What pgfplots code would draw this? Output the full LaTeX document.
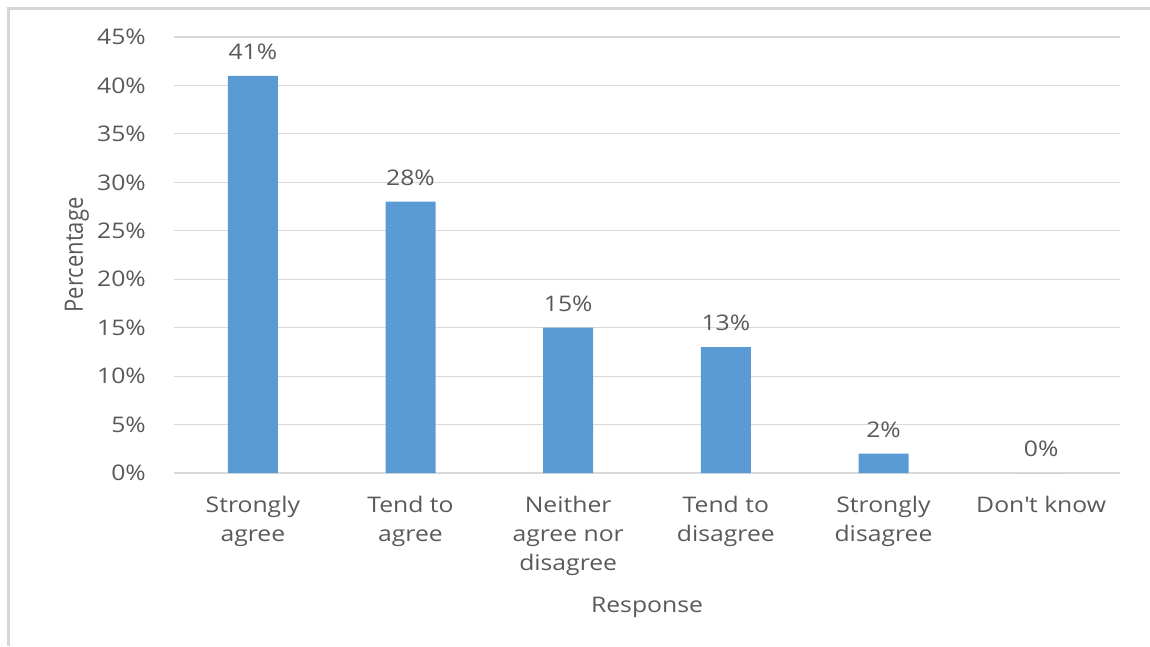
\documentclass[border=0pt]{standalone}
\usepackage{fontspec}
\setmainfont{Open Sans}[FakeStretch=1.15]
\newfontfamily\uprightlabel{Open Sans}
\usepackage{pgfplots}
\pgfplotsset{compat=1.18}

\definecolor{barblue}{HTML}{5B9BD5}
\definecolor{gridgray}{HTML}{D9D9D9}
\definecolor{framegray}{HTML}{D6D6D6}
\definecolor{textgray}{HTML}{595959}
\newcommand\chartfont{\fontsize{21.5}{29}\selectfont}

\begin{document}
\begin{tikzpicture}
  \useasboundingbox (0pt,0pt) rectangle (1150pt,646pt);
  % chart frame (top and left edges)
  \draw[framegray, line width=2.5pt] (8.5pt,0pt) -- (8.5pt,637.5pt) -- (1150pt,637.5pt);

  \begin{axis}[
    at={(174pt,173pt)}, anchor=south west,
    scale only axis, width=946pt, height=436pt,
    ybar, bar width=50pt,
    xmin=-0.5, xmax=5.5, ymin=0, ymax=45,
    enlargelimits=false,
    axis line style={draw=none},
    tick style={draw=none},
    ymajorgrids, major grid style={gridgray, line width=1.2pt},
    xtick={0,1,2,3,4,5},
    xticklabels={{Strongly\\agree},{Tend to\\agree},{Neither\\agree nor\\disagree},{Tend to\\disagree},{Strongly\\disagree},{Don\textquotesingle t know}},
    xticklabel style={align=center, font=\chartfont, text=textgray, inner sep=0pt, anchor=north, yshift=-19pt},
    ytick={0,5,10,15,20,25,30,35,40,45},
    yticklabels={0\%,5\%,10\%,15\%,20\%,25\%,30\%,35\%,40\%,45\%},
    yticklabel style={font=\chartfont, text=textgray, inner sep=0pt, anchor=east, xshift=-28pt},
    xlabel={Response},
    xlabel style={at={([yshift=-139pt]axis description cs:0.5,0)}, anchor=base, inner sep=0pt, font=\chartfont, text=textgray},
    ylabel={\scalebox{1}[1.15]{\uprightlabel Percentage}},
    ylabel style={at={([xshift=-91pt]axis description cs:0,0.5)}, anchor=base, inner sep=0pt, font=\fontsize{22}{26}\selectfont, text=textgray},
    /pgf/number format/assume math mode=true,
    nodes near coords={\pgfmathprintnumber[fixed,precision=0]{\pgfplotspointmeta}\%},
    nodes near coords style={anchor=base, inner sep=0pt, yshift=16.5pt, font=\chartfont, text=textgray},
  ]
    \addplot[fill=barblue, draw=none] coordinates {
      (0,41) (1,28) (2,15) (3,13) (4,2) (5,0)
    };
  \end{axis}
\end{tikzpicture}
\end{document}
